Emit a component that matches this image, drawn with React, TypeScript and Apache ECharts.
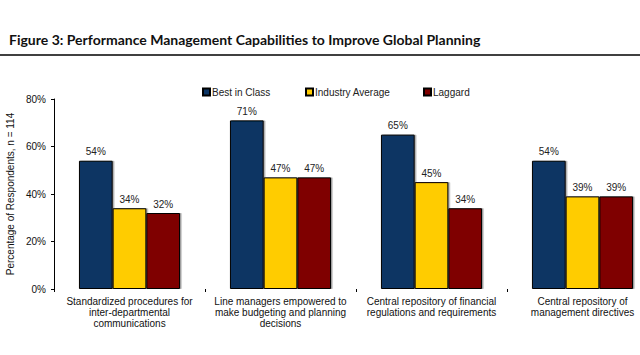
import React, { useEffect, useRef } from "react";
import * as echarts from "echarts";

const categories = [
  "Standardized procedures for\ninter-departmental\ncommunications",
  "Line managers empowered to\nmake budgeting and planning\ndecisions",
  "Central repository of financial\nregulations and requirements",
  "Central repository of\nmanagement directives",
];
const seriesNames = ["Best in Class", "Industry Average", "Laggard"];
const bestInClass = [54, 71, 65, 54];
const industryAverage = [34, 47, 45, 39];
const laggard = [32, 47, 34, 39];
const colors = ["#0b3464", "#ffcc00", "#7f0000"];
const legendLeft = [202, 305, 423];

export default function App() {
  const ref = useRef<HTMLDivElement>(null);
  useEffect(() => {
    if (!ref.current) return;
    const chart = echarts.init(ref.current, undefined, { renderer: "svg" });
    const values = [bestInClass, industryAverage, laggard];
    const font = "Liberation Sans, Arial, sans-serif";
    chart.setOption({
      animation: false,
      backgroundColor: "#ffffff",
      textStyle: { fontFamily: font },
      title: {
        text: "Figure 3: Performance Management Capabilities to Improve Global Planning",
        left: 4,
        top: 27,
        textStyle: {
          fontFamily: "Lato, sans-serif",
          fontWeight: "bold",
          fontSize: 14,
          color: "#111111",
        },
      },
      graphic: [
        {
          type: "line",
          shape: { x1: 0, y1: 55, x2: 640, y2: 55 },
          style: { stroke: "#000000", lineWidth: 1.5 },
        },
      ],
      legend: seriesNames.map((n, i) => ({
        data: [n],
        left: legendLeft[i],
        top: 87,
        padding: 0,
        itemWidth: 7,
        itemHeight: 7,
        itemGap: 3,
        icon: "rect",
        textStyle: { fontSize: 10, color: "#222", fontFamily: font, padding: [0, 0, 0, -3] },
      })),
      grid: {
        left: 54,
        width: 604,
        top: 99,
        bottom: 66,
        containLabel: false,
        outerBoundsMode: "none",
      },
      xAxis: {
        type: "category",
        data: categories,
        axisLine: { show: false },
        axisTick: { show: true, length: 3, lineStyle: { color: "#000" } },
        axisLabel: {
          fontSize: 10,
          color: "#111",
          lineHeight: 11,
          margin: 7,
          interval: 0,
          hideOverlap: false,
        },
      },
      yAxis: {
        type: "value",
        min: 0,
        max: 80,
        interval: 20,
        name: "Percentage of Respondents, n = 114",
        nameLocation: "middle",
        nameGap: 36,
        nameRotate: 90,
        nameTextStyle: { fontSize: 10, color: "#111" },
        axisLine: { show: true, lineStyle: { color: "#000", width: 1 } },
        axisTick: { show: true, length: 3, lineStyle: { color: "#000" } },
        axisLabel: { formatter: "{value}%", fontSize: 10, color: "#111", margin: 8 },
        splitLine: { show: false },
      },
      series: seriesNames.map((n, i) => ({
        name: n,
        type: "bar",
        data: values[i],
        barWidth: 33.7,
        barGap: "0%",
        itemStyle: {
          color: colors[i],
          borderColor: "#000",
          borderWidth: 1,
          shadowColor: "rgba(0,0,0,0.35)",
          shadowOffsetX: 1.5,
          shadowOffsetY: 0,
          shadowBlur: 1,
        },
        label: {
          show: true,
          position: "top",
          distance: 4,
          formatter: "{c}%",
          fontSize: 10,
          color: "#222",
        },
      })),
    });
    return () => chart.dispose();
  }, []);
  return (
    <div
      ref={ref}
      style={{ position: "fixed", left: 0, top: 0, width: 640, height: 355 }}
    />
  );
}
